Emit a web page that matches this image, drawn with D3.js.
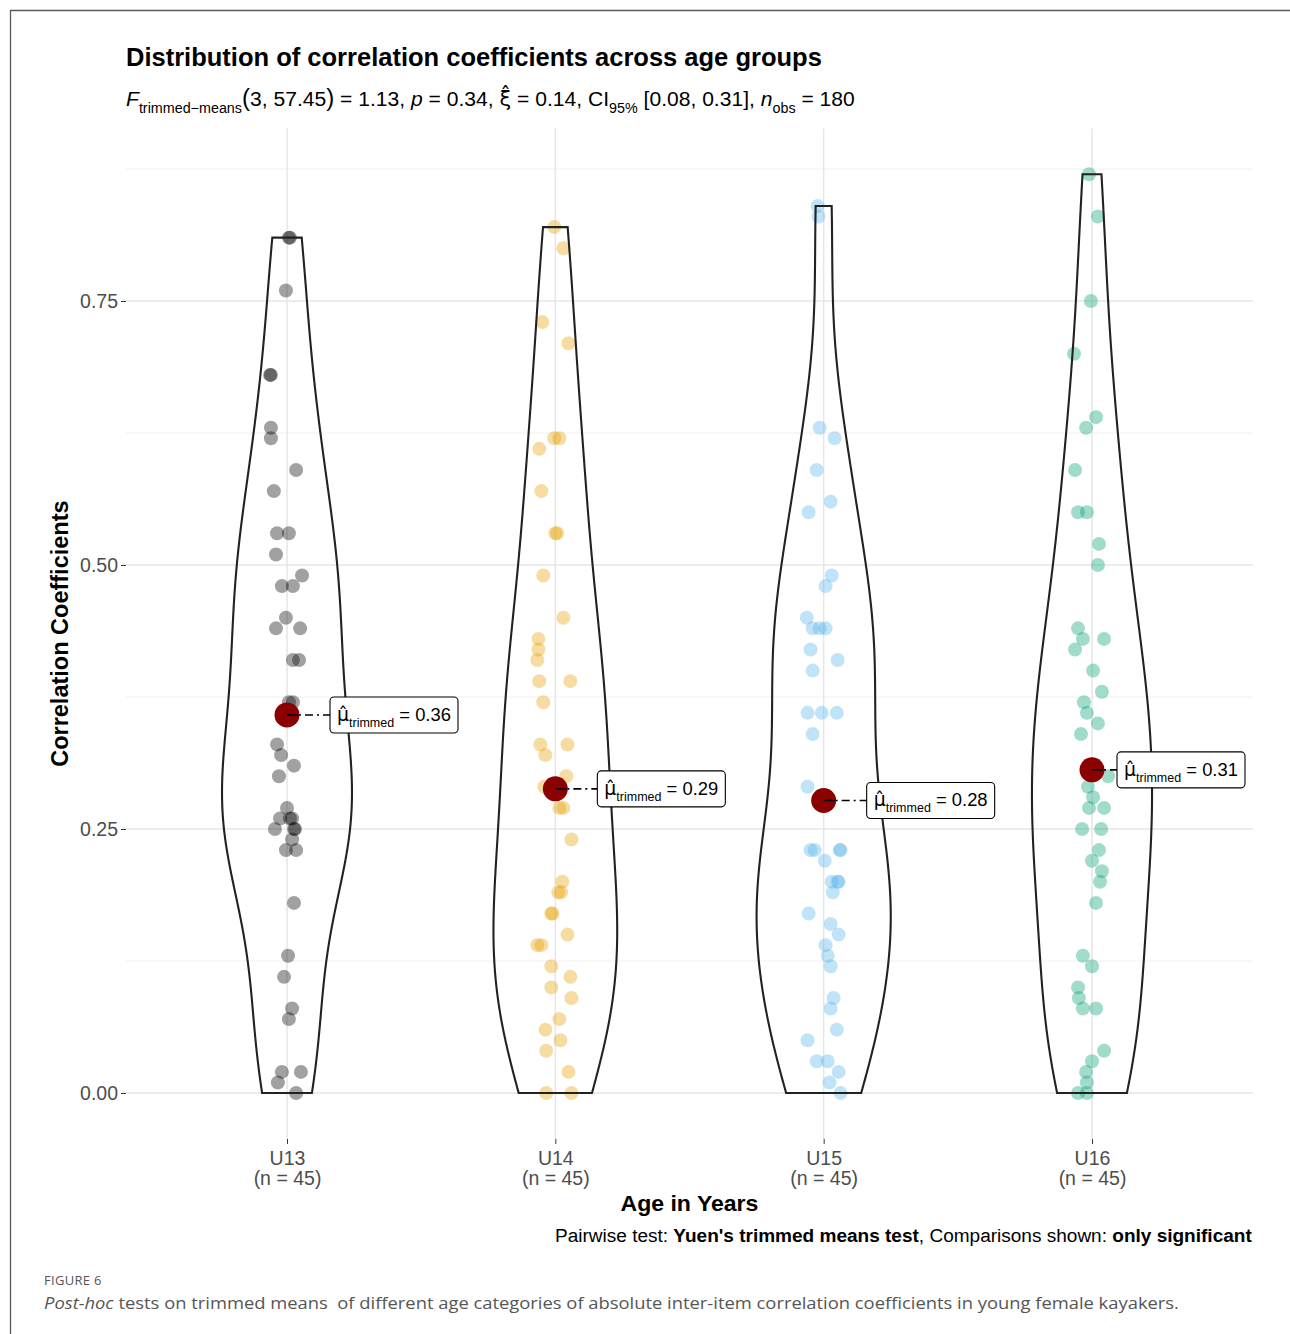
<!DOCTYPE html>
<html><head><meta charset="utf-8">
<script src="https://cdn.jsdelivr.net/npm/d3@7"></script>
<style>body{margin:0;background:#fff}svg{display:block}</style>
</head><body>
<svg id="chart" width="1290" height="1334"></svg>
<script>
// ---------------- data ----------------
const categories = ["U13", "U14", "U15", "U16"];
const groupN = [45, 45, 45, 45];

const valuesU13 = [0.81,0.81,0.76,0.68,0.68,0.63,0.62,0.59,0.57,0.53,0.53,0.51,0.49,0.48,0.48,0.45,0.44,0.44,0.41,0.41,0.37,0.37,0.33,0.32,0.31,0.30,0.27,0.26,0.26,0.26,0.25,0.25,0.25,0.24,0.23,0.23,0.18,0.13,0.11,0.08,0.07,0.02,0.02,0.01,0.00];
const valuesU14 = [0.82,0.80,0.73,0.71,0.62,0.62,0.61,0.57,0.53,0.53,0.49,0.45,0.43,0.42,0.41,0.39,0.39,0.37,0.33,0.33,0.32,0.30,0.29,0.27,0.27,0.24,0.20,0.19,0.19,0.17,0.17,0.15,0.14,0.14,0.12,0.11,0.10,0.09,0.07,0.06,0.05,0.04,0.02,0.00,0.00];
const valuesU15 = [0.84,0.83,0.63,0.62,0.59,0.56,0.55,0.49,0.48,0.45,0.44,0.44,0.44,0.42,0.41,0.40,0.36,0.36,0.36,0.34,0.29,0.23,0.23,0.23,0.23,0.22,0.20,0.20,0.20,0.19,0.17,0.16,0.15,0.14,0.13,0.12,0.09,0.08,0.06,0.05,0.03,0.03,0.02,0.01,0.00];
const valuesU16 = [0.87,0.83,0.75,0.70,0.64,0.63,0.59,0.55,0.55,0.52,0.50,0.44,0.43,0.43,0.42,0.40,0.38,0.37,0.36,0.35,0.34,0.30,0.29,0.28,0.27,0.27,0.25,0.25,0.23,0.22,0.21,0.20,0.18,0.13,0.12,0.10,0.09,0.08,0.08,0.04,0.03,0.02,0.01,0.00,0.00];

// horizontal jitter, as a fraction of the category spacing
const jitterU13 = [0.007,0.011,-0.004,-0.063,-0.060,-0.060,-0.060,0.034,-0.049,-0.037,0.007,-0.041,0.056,-0.019,0.022,-0.004,-0.041,0.049,0.022,0.045,0.007,0.022,-0.037,-0.022,0.026,-0.030,0,-0.026,0.011,0.019,-0.045,0.026,0.030,0.019,-0.004,0.034,0.026,0.004,-0.011,0.019,0.007,-0.019,0.052,-0.034,0.034];
const jitterU14 = [-0.004,0.030,-0.049,0.049,-0.004,0.015,-0.060,-0.052,0,0.007,-0.045,0.030,-0.063,-0.063,-0.067,-0.060,0.056,-0.045,-0.056,0.045,-0.037,0.041,-0.041,0.015,0.030,0.060,0.026,0.011,0.022,-0.015,-0.011,0.045,-0.067,-0.052,-0.015,0.056,-0.015,0.060,0.015,-0.037,0.019,-0.034,0.049,-0.034,0.060];
const jitterU15 = [-0.022,-0.019,-0.015,0.041,-0.026,0.026,-0.056,0.030,0.007,-0.063,-0.041,-0.015,0.007,-0.049,0.052,-0.041,-0.060,-0.007,0.049,-0.041,-0.060,-0.049,-0.034,0.060,0.063,0.004,0.030,0.052,0.056,0.034,-0.056,0.026,0.056,0.007,0.015,0.026,0.037,0.026,0.049,-0.060,-0.026,0.015,0.056,0.022,0.063];
const jitterU16 = [-0.011,0.022,-0.004,-0.067,0.015,-0.022,-0.063,-0.052,-0.019,0.026,0.022,-0.052,-0.034,0.045,-0.063,0.004,0.037,-0.030,-0.019,0.022,-0.041,0.060,-0.015,0.004,-0.011,0.045,-0.037,0.034,0.026,0,0.037,0.030,0.015,-0.034,0,-0.052,-0.049,-0.034,0.015,0.045,0,-0.022,-0.019,-0.052,-0.019];

const trimmedMeans = [0.358, 0.288, 0.277, 0.306];
const yTickValues = [0, 0.25, 0.50, 0.75];
const yMinorValues = [0.125, 0.375, 0.625, 0.875];

const titleText = "Distribution of correlation coefficients across age groups";
const xTitle = "Age in Years";
const yTitle = "Correlation Coefficients";
const figureLabel = "FIGURE 6";

// ---------------- styles / layout ----------------
const pointColors = ["#000000", "#E69F00", "#56B4E9", "#009E73"];
const labelNudge = [43, 42, 43, 25];
const FONT = "'Liberation Sans', Arial, Helvetica, sans-serif";

const groups = categories.map((c, i) => ({
  cat: c,
  n: groupN[i],
  values: [valuesU13, valuesU14, valuesU15, valuesU16][i],
  jitter: [jitterU13, jitterU14, jitterU15, jitterU16][i],
  color: pointColors[i],
  mean: trimmedMeans[i]
}));

const svg = d3.select("#chart");
svg.append("rect").attr("width", 1290).attr("height", 1334).attr("fill", "#fff");

// figure frame
svg.append("path").attr("d", "M10.5,1334 V10.5 H1290")
  .attr("fill", "none").attr("stroke", "#5a5a5a").attr("stroke-width", 1.3);

const x = d3.scalePoint().domain(categories).range([287, 1092]);
const y = d3.scaleLinear().domain([0, 0.75]).range([1093, 301]);
const step = x.step();

const allVals = groups.flatMap(g => g.values);
const yMax = d3.max(allVals), yMin = d3.min(allVals);
const expand = 0.05 * (yMax - yMin);
const panelTop = y(yMax + expand), panelBottom = y(yMin - expand);
const panelLeft = x(categories[0]) - 0.6 * step;
const panelRight = x(categories[categories.length - 1]) + 0.6 * step;

// grid
const grid = svg.append("g");
grid.selectAll(".minor").data(yMinorValues).join("line")
  .attr("x1", panelLeft).attr("x2", panelRight)
  .attr("y1", d => y(d)).attr("y2", d => y(d))
  .attr("stroke", "#f0f0f0").attr("stroke-width", 1);
grid.selectAll(".major").data(yTickValues).join("line")
  .attr("x1", panelLeft).attr("x2", panelRight)
  .attr("y1", d => y(d)).attr("y2", d => y(d))
  .attr("stroke", "#e6e6e6").attr("stroke-width", 1.5);
grid.selectAll(".vmajor").data(categories).join("line")
  .attr("x1", d => x(d)).attr("x2", d => x(d))
  .attr("y1", panelTop).attr("y2", panelBottom)
  .attr("stroke", "#e6e6e6").attr("stroke-width", 1.5);

// axes
const yAxis = svg.append("g").attr("transform", `translate(${panelLeft},0)`)
  .call(d3.axisLeft(y).tickValues(yTickValues).tickFormat(d3.format(".2f")).tickSize(5).tickPadding(3));
yAxis.select(".domain").remove();
yAxis.selectAll("line").attr("stroke", "#333").attr("stroke-width", 1);
yAxis.selectAll("text").attr("font-family", FONT).attr("font-size", 19.5).attr("fill", "#4d4d4d");

const xAxis = svg.append("g").attr("transform", `translate(0,${panelBottom})`)
  .call(d3.axisBottom(x).tickSize(5).tickPadding(4));
xAxis.select(".domain").remove();
xAxis.selectAll("line").attr("stroke", "#333").attr("stroke-width", 1);
xAxis.selectAll("text").each(function(d, i) {
  const t = d3.select(this).text(null).attr("font-family", FONT).attr("font-size", 19.5)
    .attr("fill", "#4d4d4d").attr("y", 0).attr("dy", 0);
  t.append("tspan").attr("x", 0).attr("y", 26).text(d);
  t.append("tspan").attr("x", 0).attr("y", 46).text(`(n = ${groupN[i]})`);
});

// KDE for violins (gaussian, bw.nrd0), trimmed to the data range
function kde(vals) {
  const s = vals.slice().sort(d3.ascending);
  const n = s.length;
  const sd = d3.deviation(s);
  const iqr = d3.quantileSorted(s, 0.75) - d3.quantileSorted(s, 0.25);
  let lo = Math.min(sd, iqr / 1.34);
  if (!(lo > 0)) lo = sd || 1;
  const bw = 0.9 * lo * Math.pow(n, -0.2);
  const mn = s[0], mx = s[n - 1];
  const pts = [];
  for (let k = 0; k < 512; k++) {
    const v = mn + (mx - mn) * k / 511;
    let sum = 0;
    for (const xi of s) { const u = (v - xi) / bw; sum += Math.exp(-0.5 * u * u); }
    pts.push({ v, d: sum / (n * bw * Math.sqrt(2 * Math.PI)) });
  }
  return pts;
}
groups.forEach(g => g.dens = kde(g.values));
const maxDens = d3.max(groups, g => d3.max(g.dens, p => p.d));
const wScale = d3.scaleLinear().domain([0, maxDens]).range([0, 0.25 * step]);

// points
const pts = svg.append("g");
groups.forEach(g => {
  pts.selectAll(null).data(g.values.map((v, i) => ({ v, j: g.jitter[i] }))).join("circle")
    .attr("cx", d => x(g.cat) + d.j * step)
    .attr("cy", d => y(d.v))
    .attr("r", 7)
    .attr("fill", g.color).attr("fill-opacity", 0.37);
});

// violins
const line = d3.line().x(d => d[0]).y(d => d[1]);
groups.forEach(g => {
  const cx = x(g.cat);
  const left = g.dens.map(p => [cx - wScale(p.d), y(p.v)]);
  const right = g.dens.slice().reverse().map(p => [cx + wScale(p.d), y(p.v)]);
  svg.append("path").attr("d", line(left.concat(right)) + "Z")
    .attr("fill", "none").attr("stroke", "#222").attr("stroke-width", 2.1)
    .attr("stroke-linejoin", "miter");
});

// rich text helper
function rich(parent, parts, size, opts = {}) {
  const t = parent.append("text").attr("font-family", opts.family || FONT)
    .attr("font-size", size).attr("fill", opts.fill || "#000");
  let shift = 0;
  parts.forEach(p => {
    const target = p.sub ? size * 0.32 : 0;
    const ts = t.append("tspan").text(p.t);
    if (target !== shift) { ts.attr("dy", target - shift); shift = target; }
    if (p.sub) ts.attr("font-size", size * 0.68);
    if (p.italic) ts.attr("font-style", "italic");
    if (p.bold) ts.attr("font-weight", "bold");
    if (p.family) ts.attr("font-family", p.family);
    if (p.size) ts.attr("font-size", p.size);
  });
  return t;
}
function place(g, xPos, yPos, targetWidth, anchor) {
  const bb = g.node().getBBox();
  const k = targetWidth ? targetWidth / bb.width : 1;
  const w = bb.width * k;
  const x0 = anchor === "end" ? xPos - w : anchor === "middle" ? xPos - w / 2 : xPos;
  g.attr("transform", `translate(${x0 - bb.x * k},${yPos}) scale(${k},1)`);
}

// mean markers and labels
groups.forEach((g, i) => {
  const cx = x(g.cat), cy = y(g.mean);
  const boxX = cx + labelNudge[i];
  svg.append("line").attr("x1", cx).attr("x2", boxX).attr("y1", cy).attr("y2", cy)
    .attr("stroke", "#000").attr("stroke-width", 1.6).attr("stroke-dasharray", "8,4,2,4");
  svg.append("circle").attr("cx", cx).attr("cy", cy).attr("r", 12.5).attr("fill", "#8B0000");
  svg.append("line").attr("x1", cx).attr("x2", cx + 11).attr("y1", cy).attr("y2", cy)
    .attr("stroke", "#000").attr("stroke-width", 1.6);
  const lg = svg.append("g");
  const rect = lg.append("rect");
  const tg = lg.append("g");
  rich(tg, [
    { t: "\u03BC\u0302", family: "'DejaVu Sans', sans-serif", size: 19 },
    { t: "trimmed", sub: true },
    { t: " = " + d3.format(".2f")(g.mean) }
  ], 18.5);
  const bb = tg.node().getBBox();
  tg.attr("transform", `translate(${boxX + 7 - bb.x},${cy + 6})`);
  rect.attr("x", boxX).attr("y", cy - 18).attr("width", 128).attr("height", 36)
    .attr("rx", 4).attr("fill", "#fff").attr("stroke", "#000").attr("stroke-width", 1.1);
  const k = Math.min(1, 114 / bb.width);
  tg.attr("transform", `translate(${boxX + 7 - bb.x * k},${cy + 6}) scale(${k},1)`);
});

// title
const tg = svg.append("g");
tg.append("text").attr("font-family", FONT).attr("font-weight", "bold").attr("font-size", 25).text(titleText);
place(tg, 126, 66, 696, "start");

// subtitle
const sg = svg.append("g");
rich(sg, [
  { t: "F", italic: true },
  { t: "trimmed\u2212means", sub: true },
  { t: "(", size: 24 },
  { t: "3, 57.45" },
  { t: ")", size: 24 },
  { t: " = 1.13, " },
  { t: "p", italic: true },
  { t: " = 0.34, " },
  { t: "\u03BE\u0302", family: "'DejaVu Sans', sans-serif" },
  { t: " = 0.14, CI" },
  { t: "95%", sub: true },
  { t: " [0.08, 0.31], " },
  { t: "n", italic: true },
  { t: "obs", sub: true },
  { t: " = 180" }
], 21);
place(sg, 126, 106, 729, "start");

// axis titles
const xg = svg.append("g");
xg.append("text").attr("font-family", FONT).attr("font-weight", "bold").attr("font-size", 22).text(xTitle);
place(xg, (panelLeft + panelRight) / 2, 1211, 138, "middle");

const yg = svg.append("g").attr("transform", `translate(68,${(panelTop + panelBottom) / 2}) rotate(-90)`);
yg.append("text").attr("font-family", FONT).attr("font-weight", "bold").attr("font-size", 23.5)
  .attr("text-anchor", "middle").text(yTitle);

// caption
const cg = svg.append("g");
rich(cg, [
  { t: "Pairwise test: " },
  { t: "Yuen's trimmed means test", bold: true },
  { t: ", Comparisons shown: " },
  { t: "only significant", bold: true }
], 19);
place(cg, panelRight, 1242, 698, "end");

// figure label + legend text
svg.append("text").attr("x", 44).attr("y", 1285).attr("font-family", "'Open Sans', sans-serif")
  .attr("font-size", 13).attr("fill", "#555").attr("letter-spacing", 0.3).text(figureLabel);
const fg = svg.append("g");
rich(fg, [
  { t: "Post-hoc", italic: true },
  { t: " tests on trimmed means  of different age categories of absolute inter-item correlation coefficients in young female kayakers." }
], 17, { family: "'Open Sans', sans-serif", fill: "#555" });
fg.select("text").attr("xml:space", "preserve").style("white-space", "pre");
place(fg, 44, 1309, 1136, "start");
</script>
</body></html>
